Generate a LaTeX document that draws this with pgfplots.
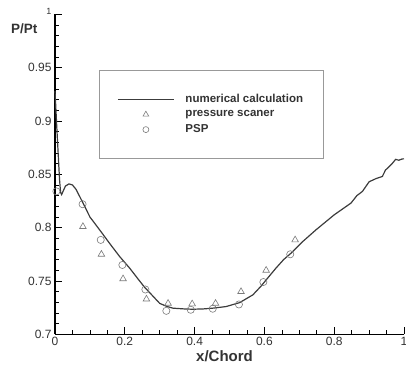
\documentclass[border=0pt]{standalone}
\usepackage{pgfplots}
\pgfplotsset{compat=1.18}
\usepackage{fontspec}
\setmainfont{Liberation Sans}
\definecolor{curve}{HTML}{3C3C3C}
\definecolor{mk}{HTML}{7A7A7A}
\definecolor{lab}{HTML}{333333}
\begin{document}
\begin{tikzpicture}[x=1pt,y=1pt]
\useasboundingbox (0,0) rectangle (406,365);
\begin{axis}[
  at={(55pt,30.7pt)}, anchor=south west,
  scale only axis, width=349pt, height=320pt,
  xmin=0, xmax=1, ymin=0.7, ymax=1,
  axis x line*=bottom, axis y line*=left,
  axis line style={black, line width=1.1pt},
  tick align=inside,
  major tick length=7pt, minor tick length=4pt,
  tick style={black, line width=0.9pt},
  minor tick style={line width=0.6pt},
  xtick={0,0.2,0.4,0.6,0.8,1},
  xticklabels={0,0.2,0.4,0.6,0.8,1},
  minor x tick num=3,
  ytick={0.7,0.75,0.8,0.85,0.9,0.95,1},
  yticklabels={0.7,0.75,0.8,0.85,0.9,0.95,{\raisebox{5pt}{\fontsize{9}{9}\selectfont 1}}},
  minor y tick num=4,
  ticklabel style={font=\fontsize{12}{12}\selectfont, text=lab},
  xticklabel style={yshift=1pt},
  yticklabel style={xshift=0pt},
  xlabel={\textbf{x/Chord}},
  xlabel style={font=\fontsize{15}{15}\selectfont, text=lab, yshift=2pt, xshift=-5pt},
  ylabel={\textbf{P/Pt}},
  ylabel style={font=\fontsize{13.5}{13.5}\selectfont, text=lab, rotate=-90, at={(rel axis cs:0,1)}, anchor=east, xshift=-14pt, yshift=-14pt},
  legend style={at={(0.126,0.826)}, anchor=north west, draw=gray!80, line width=0.6pt,
    font=\bfseries\fontsize{11.5}{14}\selectfont, text=lab,
    inner xsep=18pt, inner ysep=22pt, row sep=2.5pt, column sep=9pt,
    cells={anchor=west}},
  legend cell align=left,
  clip=false,
]
\addplot[curve, line width=1.2pt, no marks,
  legend image code/.code={\draw[curve, line width=1.2pt] (0pt,0pt) -- (56pt,0pt);}]
coordinates {
(0.0,0.928) (0.002,0.915) (0.005,0.895) (0.009,0.870) (0.013,0.845) (0.016,0.833)
(0.019,0.831) (0.023,0.834) (0.030,0.839) (0.040,0.841) (0.050,0.840) (0.060,0.836)
(0.071,0.829) (0.085,0.820) (0.100,0.810) (0.130,0.797) (0.157,0.785) (0.185,0.773)
(0.214,0.762) (0.240,0.751) (0.257,0.744) (0.280,0.736) (0.300,0.729) (0.320,0.7262)
(0.338,0.7245) (0.370,0.7238) (0.395,0.7235) (0.425,0.7238) (0.452,0.7245) (0.490,0.7260)
(0.529,0.7297) (0.567,0.7370) (0.590,0.7450) (0.605,0.7510) (0.633,0.7620) (0.655,0.7700)
(0.676,0.7760) (0.710,0.7870) (0.748,0.7980) (0.800,0.8120) (0.848,0.8230) (0.865,0.8300)
(0.881,0.8340) (0.900,0.8430) (0.920,0.8460) (0.938,0.8480) (0.947,0.8540) (0.957,0.8570)
(0.966,0.8600) (0.976,0.8640) (0.985,0.8632) (0.995,0.8644) (1.0,0.8645)
};
\addlegendentry{numerical calculation}
\addplot[only marks, mark=triangle, mark size=3.8pt, mk, mark options={line width=0.6pt},
  legend image code/.code={\draw[mk, line width=0.6pt] plot[mark=triangle, mark size=3.3pt, only marks] coordinates {(28pt,0pt)};}]
coordinates {
(0.080,0.801) (0.133,0.775) (0.195,0.752) (0.262,0.733) (0.324,0.729)
(0.393,0.7285) (0.460,0.729) (0.533,0.740) (0.605,0.760) (0.688,0.7885)
};
\addlegendentry{pressure scaner}
\addplot[only marks, mark=o, mark size=3.6pt, mk, mark options={line width=0.6pt},
  legend image code/.code={\draw[mk, line width=0.6pt] plot[mark=o, mark size=3pt, only marks] coordinates {(28pt,0pt)};}]
coordinates {
(0.004,0.834) (0.079,0.822) (0.131,0.7885) (0.193,0.765) (0.259,0.742) (0.319,0.722)
(0.389,0.723) (0.452,0.724) (0.527,0.728) (0.597,0.749) (0.674,0.775)
};
\addlegendentry{PSP}
\end{axis}
\end{tikzpicture}
\end{document}
